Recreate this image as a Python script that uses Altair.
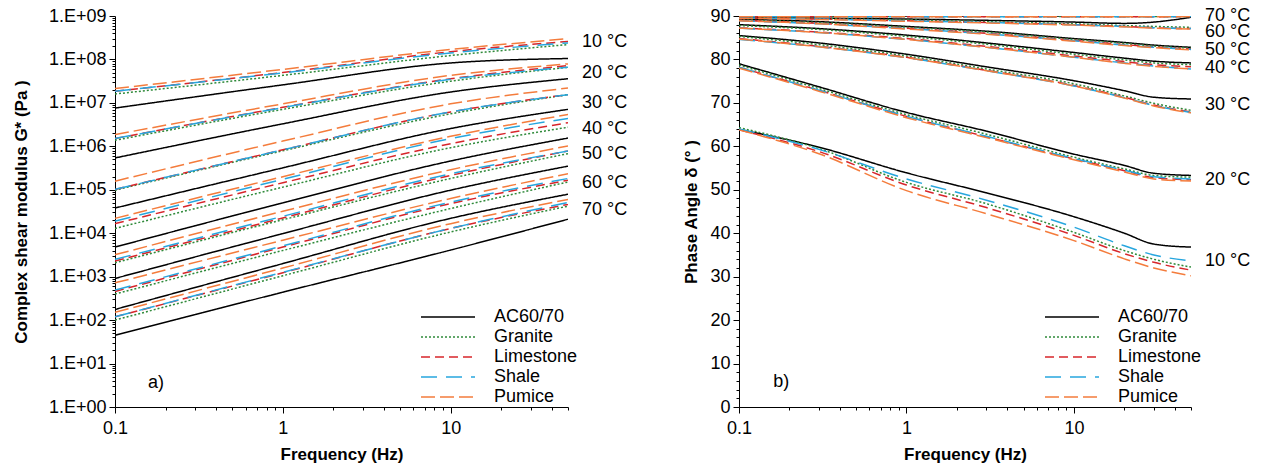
import altair as alt
import pandas as pd

FONT = "Liberation Sans"

# ---------------- shared categories ----------------
materials = ["AC60/70", "Granite", "Limestone", "Shale", "Pumice"]
colors = ["#000000", "#2f8a3a", "#d7262b", "#27a6de", "#f47c3c"]
dashes = [[1, 0], [2, 2], [9, 5], [16, 9], [14, 5]]
temps = ["10 °C", "20 °C", "30 °C", "40 °C", "50 °C", "60 °C", "70 °C"]

# ---------------- panel a) complex shear modulus G* (Pa) ----------------
freq_g = [0.1, 1, 10, 50]
g_10 = {"AC60/70": [7.6e6, 2.6e7, 8.3e7, 1.05e8],
        "Granite": [1.6e7, 4.3e7, 1.23e8, 2.2e8],
        "Limestone": [1.86e7, 5.0e7, 1.51e8, 2.6e8],
        "Shale": [1.86e7, 4.9e7, 1.41e8, 2.4e8],
        "Pumice": [2.14e7, 5.9e7, 1.7e8, 3.0e8]}
g_20 = {"AC60/70": [5.4e5, 3.3e6, 1.78e7, 3.6e7],
        "Granite": [1.38e6, 7.1e6, 3.16e7, 6.6e7],
        "Limestone": [1.51e6, 7.9e6, 3.6e7, 7.2e7],
        "Shale": [1.51e6, 7.8e6, 3.5e7, 6.6e7],
        "Pumice": [1.86e6, 9.5e6, 4.3e7, 7.9e7]}
g_30 = {"AC60/70": [3.8e4, 3.2e5, 2.57e6, 7.1e6],
        "Granite": [9.8e4, 7.9e5, 5.6e6, 1.55e7],
        "Limestone": [1.02e5, 8.3e5, 6.2e6, 1.55e7],
        "Shale": [1.02e5, 8.3e5, 6.2e6, 1.55e7],
        "Pumice": [1.58e5, 1.32e6, 9.5e6, 2.2e7]}
g_40 = {"AC60/70": [4.8e3, 5.0e4, 4.6e5, 1.55e6],
        "Granite": [1.29e4, 1.15e5, 9.3e5, 2.75e6],
        "Limestone": [1.66e4, 1.45e5, 1.15e6, 3.5e6],
        "Shale": [1.9e4, 1.74e5, 1.51e6, 4.4e6],
        "Pumice": [2.2e4, 2.0e5, 1.7e6, 5.4e6]}
g_50 = {"AC60/70": [910, 9.8e3, 9.8e4, 3.5e5],
        "Granite": [2.1e3, 2.04e4, 1.82e5, 6.8e5],
        "Limestone": [2.3e3, 2.24e4, 2.14e5, 7.8e5],
        "Shale": [2.5e3, 2.45e4, 2.34e5, 7.8e5],
        "Pumice": [3.2e3, 3.2e4, 2.9e5, 1.02e6]}
g_60 = {"AC60/70": [176, 2.0e3, 2.2e4, 7.9e4],
        "Granite": [398, 4.0e3, 3.7e4, 1.51e5],
        "Limestone": [457, 4.8e3, 4.8e4, 1.66e5],
        "Shale": [490, 5.1e3, 5.2e4, 1.82e5],
        "Pumice": [720, 6.9e3, 6.3e4, 2.34e5]}
g_70 = {"AC60/70": [45, 440, 4.1e3, 2.1e4],
        "Granite": [100, 1.05e3, 1.07e4, 4.2e4],
        "Limestone": [119, 1.23e3, 1.29e4, 4.6e4],
        "Shale": [119, 1.26e3, 1.29e4, 5.1e4],
        "Pumice": [151, 1.58e3, 1.66e4, 6.0e4]}
g_tables = [g_10, g_20, g_30, g_40, g_50, g_60, g_70]
g_label_y = [2.5e8, 5.0e7, 1.0e7, 2.5e6, 6.6e5, 1.4e5, 3.4e4]

# ---------------- panel b) phase angle (deg) ----------------
freq_d = [0.1, 0.3, 1, 3, 10, 20, 30, 50]
d_10 = {"AC60/70": [63.9, 59.8, 53.9, 49.3, 43.8, 40.0, 37.5, 36.8],
        "Granite": [64.3, 59.5, 51.7, 46.8, 40.2, 36.0, 34.0, 32.2],
        "Limestone": [63.8, 58.8, 51.1, 45.9, 39.5, 35.3, 33.3, 31.5],
        "Shale": [64.0, 59.3, 52.5, 47.6, 41.4, 37.1, 35.0, 33.6],
        "Pumice": [63.8, 58.3, 49.8, 44.5, 38.3, 34.1, 32.0, 30.2]}
d_20 = {"AC60/70": [79.0, 73.7, 67.8, 63.5, 58.2, 55.6, 53.8, 53.3],
        "Granite": [78.7, 73.3, 67.3, 62.8, 57.5, 54.8, 53.3, 52.9],
        "Limestone": [78.2, 72.9, 66.9, 62.2, 57.1, 54.4, 52.8, 52.3],
        "Shale": [78.2, 72.9, 66.9, 62.3, 57.2, 54.5, 53.0, 52.5],
        "Pumice": [78.0, 72.7, 66.6, 62.0, 56.9, 54.1, 52.5, 52.0]}
d_30 = {"AC60/70": [85.5, 83.8, 81.2, 78.3, 75.1, 72.8, 71.3, 70.9],
        "Granite": [85.3, 83.4, 80.8, 77.8, 74.4, 71.6, 69.9, 68.3],
        "Limestone": [84.8, 83.0, 80.5, 77.5, 74.0, 71.3, 69.5, 67.9],
        "Shale": [84.6, 82.9, 80.4, 77.4, 73.9, 71.2, 69.4, 67.8],
        "Pumice": [84.7, 82.9, 80.4, 77.4, 73.9, 71.1, 69.3, 67.7]}
d_40 = {"AC60/70": [88.0, 87.1, 85.6, 83.8, 81.6, 80.3, 79.6, 79.2],
        "Granite": [87.8, 86.9, 85.3, 83.5, 81.2, 79.9, 79.2, 78.8],
        "Limestone": [87.3, 86.3, 84.8, 83.0, 80.8, 79.5, 78.8, 78.3],
        "Shale": [87.2, 86.2, 84.6, 82.8, 80.5, 79.2, 78.5, 77.8],
        "Pumice": [87.2, 86.2, 84.6, 82.8, 80.5, 79.1, 78.4, 77.8]}
d_50 = {"AC60/70": [89.3, 88.7, 87.6, 86.5, 84.8, 83.9, 83.3, 82.8],
        "Granite": [89.1, 88.5, 87.4, 86.3, 84.6, 83.7, 83.1, 82.6],
        "Limestone": [89.0, 88.3, 87.2, 86.0, 84.4, 83.4, 82.9, 82.4],
        "Shale": [88.9, 88.2, 87.1, 85.9, 84.3, 83.3, 82.8, 82.3],
        "Pumice": [88.9, 88.2, 87.0, 85.8, 84.2, 83.2, 82.7, 82.2]}
d_60 = {"AC60/70": [89.7, 89.5, 89.3, 89.0, 88.6, 88.3, 88.6, 89.7],
        "Granite": [89.6, 89.4, 89.1, 88.7, 88.2, 87.8, 87.6, 87.4],
        "Limestone": [89.5, 89.3, 88.9, 88.5, 88.0, 87.6, 87.3, 87.1],
        "Shale": [89.5, 89.3, 88.9, 88.5, 88.0, 87.6, 87.3, 87.1],
        "Pumice": [89.5, 89.2, 88.8, 88.4, 87.9, 87.5, 87.2, 87.0]}
d_70 = {"AC60/70": [90.0, 90.0, 90.0, 90.0, 90.0, 90.0, 90.0, 90.0],
        "Granite": [89.9, 89.9, 89.9, 89.9, 89.9, 89.9, 89.9, 89.9],
        "Limestone": [89.9, 89.9, 89.8, 89.8, 89.8, 89.8, 89.8, 89.9],
        "Shale": [89.9, 89.9, 89.8, 89.8, 89.8, 89.8, 89.8, 89.9],
        "Pumice": [89.9, 89.8, 89.8, 89.8, 89.8, 89.8, 89.8, 89.9]}
d_tables = [d_10, d_20, d_30, d_40, d_50, d_60, d_70]
d_label_y = [33.6, 52.3, 69.5, 78.0, 82.2, 86.4, 90.0]

label_freq = 50
panel_a_pos = (0.157, 3.6)
panel_b_pos = (0.16, 5.8)


def long_frame(freqs, tables):
    rows = []
    for t, tab in zip(temps, tables):
        for m in materials:
            for f, v in zip(freqs, tab[m]):
                rows.append({"temp": t, "material": m, "series": t + "|" + m,
                             "freq": f, "value": v})
    return pd.DataFrame(rows)


df_g = long_frame(freq_g, g_tables)
df_d = long_frame(freq_d, d_tables)
lab_g = pd.DataFrame({"temp": temps, "freq": [label_freq] * 7, "value": g_label_y})
lab_d = pd.DataFrame({"temp": temps, "freq": [label_freq] * 7, "value": d_label_y})

# axis tick values (minor + major)
x_ticks = [round(m * d, 6) for d in [0.1, 1, 10] for m in range(1, 10)] + [20, 30, 40, 50]
x_ticks = sorted(set(x_ticks))
y_ticks_g = [float(m) * 10 ** k for k in range(0, 9) for m in range(1, 10)] + [1e9]
y_ticks_d = list(range(0, 91, 2))

is_decade = "abs(log(datum.value)/LN10 - round(log(datum.value)/LN10)) < 0.001"

x_axis = alt.Axis(
    title="Frequency (Hz)", values=x_ticks,
    labelExpr=f"({is_decade}) ? format(datum.value, '~g') : ''",
    tickSize={"condition": {"test": is_decade, "value": 6}, "value": 3},
    labelFlush=False, labelOverlap=False, labelPadding=6, titlePadding=9,
    grid=False)

y_axis_g = alt.Axis(
    title="Complex shear modulus G*  (Pa )", values=y_ticks_g,
    labelExpr=f"({is_decade}) ? '1.E+' + (round(log(datum.value)/LN10) < 10 ? '0' : '') + round(log(datum.value)/LN10) : ''",
    tickSize={"condition": {"test": is_decade, "value": 6}, "value": 3},
    labelOverlap=False, labelPadding=3, titlePadding=18, grid=False)

y_axis_d = alt.Axis(
    title="Phase Angle δ  (° )", values=y_ticks_d,
    labelExpr="datum.value % 10 == 0 ? datum.value : ''",
    tickSize={"condition": {"test": "datum.value % 10 == 0", "value": 6}, "value": 3},
    labelOverlap=False, labelPadding=3, titlePadding=9, grid=False)

x_scale = alt.Scale(type="log", domain=[0.1, 50], nice=False)
yg_scale = alt.Scale(type="log", domain=[1, 1e9], nice=False)
yd_scale = alt.Scale(domain=[0, 90], nice=False)

legend = alt.Legend(title=None, orient="none", legendX=323, legendY=291,
                    symbolType="M-3,0H3", symbolSize=324, symbolStrokeWidth=1.6,
                    labelFontSize=18, labelFont=FONT, labelColor="black",
                    labelOffset=36, rowPadding=1)
color_enc = alt.Color("material:N", scale=alt.Scale(domain=materials, range=colors), legend=legend)
dash_enc = alt.StrokeDash("material:N", scale=alt.Scale(domain=materials, range=dashes), legend=legend)


def panel(df, lab, yscale, yaxis, letter_pos, letter, W, H):
    X = alt.X("freq:Q", scale=x_scale, axis=x_axis)
    Y = alt.Y("value:Q", scale=yscale, axis=yaxis)
    lines = alt.Chart(df).mark_line(interpolate="monotone", strokeWidth=1.5, clip=True).encode(
        x=X, y=Y, color=color_enc, strokeDash=dash_enc, detail="series:N")
    labels = alt.Chart(lab).mark_text(align="left", baseline="middle", dx=14,
                                      fontSize=18, font=FONT, color="black").encode(
        x=X, y=Y, text="temp:N")
    let_df = pd.DataFrame({"freq": [letter_pos[0]], "value": [letter_pos[1]], "t": [letter]})
    letter_mark = alt.Chart(let_df).mark_text(align="left", baseline="middle", fontSize=18,
                                              font=FONT, color="black").encode(
        x=X, y=Y, text="t:N")
    return alt.layer(lines, labels, letter_mark).properties(width=W, height=H)


left = panel(df_g, lab_g, yg_scale, y_axis_g, panel_a_pos, "a)", 453, 391)
right = panel(df_d, lab_d, yd_scale, y_axis_d, panel_b_pos, "b)", 452, 391)

chart = alt.hconcat(left, right, spacing=171, bounds="flush").resolve_legend(
    color="independent", strokeDash="independent"
).properties(
    padding={"left": 12, "top": 7, "right": 5, "bottom": 5}
).configure_view(stroke=None).configure_axis(
    domainColor="black", tickColor="black", labelColor="black", titleColor="black",
    labelFont=FONT, titleFont=FONT, labelFontSize=18, titleFontSize=17,
    titleFontWeight="bold", domainWidth=1, tickWidth=1
).configure_text(font=FONT)

chart.save("out.html", embed_options={"renderer": "svg", "actions": False})
